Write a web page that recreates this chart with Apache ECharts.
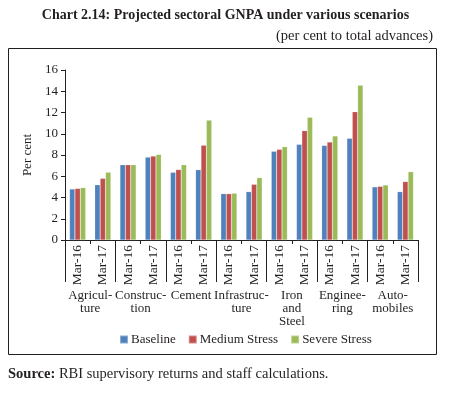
<!DOCTYPE html>
<html>
<head>
<meta charset="utf-8">
<script src="https://cdn.jsdelivr.net/npm/echarts@6/dist/echarts.min.js"></script>
<style>
html,body{margin:0;padding:0;background:#fff;}
#c{width:451px;height:393px;}
</style>
</head>
<body>
<div id="c"></div>
<script>
const periods = ["Mar-16","Mar-17","Mar-16","Mar-17","Mar-16","Mar-17","Mar-16","Mar-17","Mar-16","Mar-17","Mar-16","Mar-17","Mar-16","Mar-17"];
const sectors = ["Agricul-\nture","Construc-\ntion","Cement","Infrastruc-\nture","Iron\nand\nSteel","Enginee-\nring","Auto-\nmobiles"];
const baseline = [4.8,5.2,7.08,7.8,6.37,6.62,4.36,4.55,8.35,9.0,8.9,9.57,5.0,4.55];
const mediumStress = [4.85,5.8,7.08,7.9,6.63,8.92,4.36,5.24,8.53,10.29,9.22,12.08,5.05,5.5];
const severeStress = [4.93,6.38,7.08,8.05,7.08,11.28,4.4,5.87,8.78,11.55,9.79,14.56,5.18,6.43];
const yTicks = [0,2,4,6,8,10,12,14,16];

const F = "'Liberation Serif', 'DejaVu Serif', serif";
const chart = echarts.init(document.getElementById('c'));
chart.setOption({
  animation:false,
  backgroundColor:'#fff',
  title:[
    {text:'Chart 2.14: Projected sectoral GNPA under various scenarios', left:'center', top:3,
     textStyle:{fontFamily:F, fontSize:14, fontWeight:'bold', color:'#231f20'}},
    {text:'(per cent to total advances)', right:13, top:24,
     textStyle:{fontFamily:F, fontSize:14.5, fontWeight:'normal', color:'#231f20'}}
  ],
  graphic:[
    {type:'rect', shape:{x:8.5,y:48.5,width:428,height:306}, style:{fill:'none', stroke:'#231f20', lineWidth:1}},
    {type:'text', left:8, top:367, style:{
      text:'{b|Source:} RBI supervisory returns and staff calculations.',
      rich:{b:{fontWeight:'bold', fontFamily:F, fontSize:14.5, fill:'#231f20'}},
      fontFamily:F, fontSize:14.5, fill:'#231f20'}}
  ],
  grid:{left:65, right:33, top:70, bottom:153},
  legend:{data:['Baseline','Medium Stress','Severe Stress'], left:114, top:328,
    itemWidth:8, itemHeight:8, itemGap:12, icon:'rect',
    textStyle:{fontFamily:F, fontSize:13, color:'#231f20', padding:[0,0,0,-2]}},
  xAxis:[
    {type:'category', data:periods, position:'bottom',
     axisLine:{lineStyle:{color:'#231f20', width:1}},
     axisTick:{show:true, interval:0, length:4, lineStyle:{color:'#231f20'}},
     axisLabel:{interval:0, rotate:90, margin:5, fontFamily:F, fontSize:13.5, color:'#231f20'}},
    {type:'category', data:sectors, position:'bottom',
     axisLine:{show:false},
     axisTick:{show:true, interval:0, length:42, lineStyle:{color:'#231f20'}},
     axisLabel:{interval:0, margin:49, fontFamily:F, fontSize:13, lineHeight:13, color:'#231f20', verticalAlign:'top'}}
  ],
  yAxis:{type:'value', min:0, max:16, interval:2, name:'Per cent', nameLocation:'middle', nameGap:30,
    nameTextStyle:{fontFamily:F, fontSize:13, color:'#231f20'},
    axisLine:{show:true, lineStyle:{color:'#231f20'}},
    axisTick:{show:true, length:4, lineStyle:{color:'#231f20'}},
    splitLine:{show:false},
    axisLabel:{fontFamily:F, fontSize:13, color:'#231f20', margin:7}},
  series:[
    {name:'Baseline', type:'bar', data:baseline, xAxisIndex:0, barGap:'0%', barCategoryGap:'36%',
     itemStyle:{color:'#4f81bd', borderColor:'rgba(255,255,255,0.35)', borderWidth:0.5}},
    {name:'Medium Stress', type:'bar', data:mediumStress, xAxisIndex:0, barGap:'0%', barCategoryGap:'36%',
     itemStyle:{color:'#c0504d', borderColor:'rgba(255,255,255,0.35)', borderWidth:0.5}},
    {name:'Severe Stress', type:'bar', data:severeStress, xAxisIndex:0, barGap:'0%', barCategoryGap:'36%',
     itemStyle:{color:'#9bbb59', borderColor:'rgba(255,255,255,0.35)', borderWidth:0.5}}
  ]
});
</script>
</body>
</html>
